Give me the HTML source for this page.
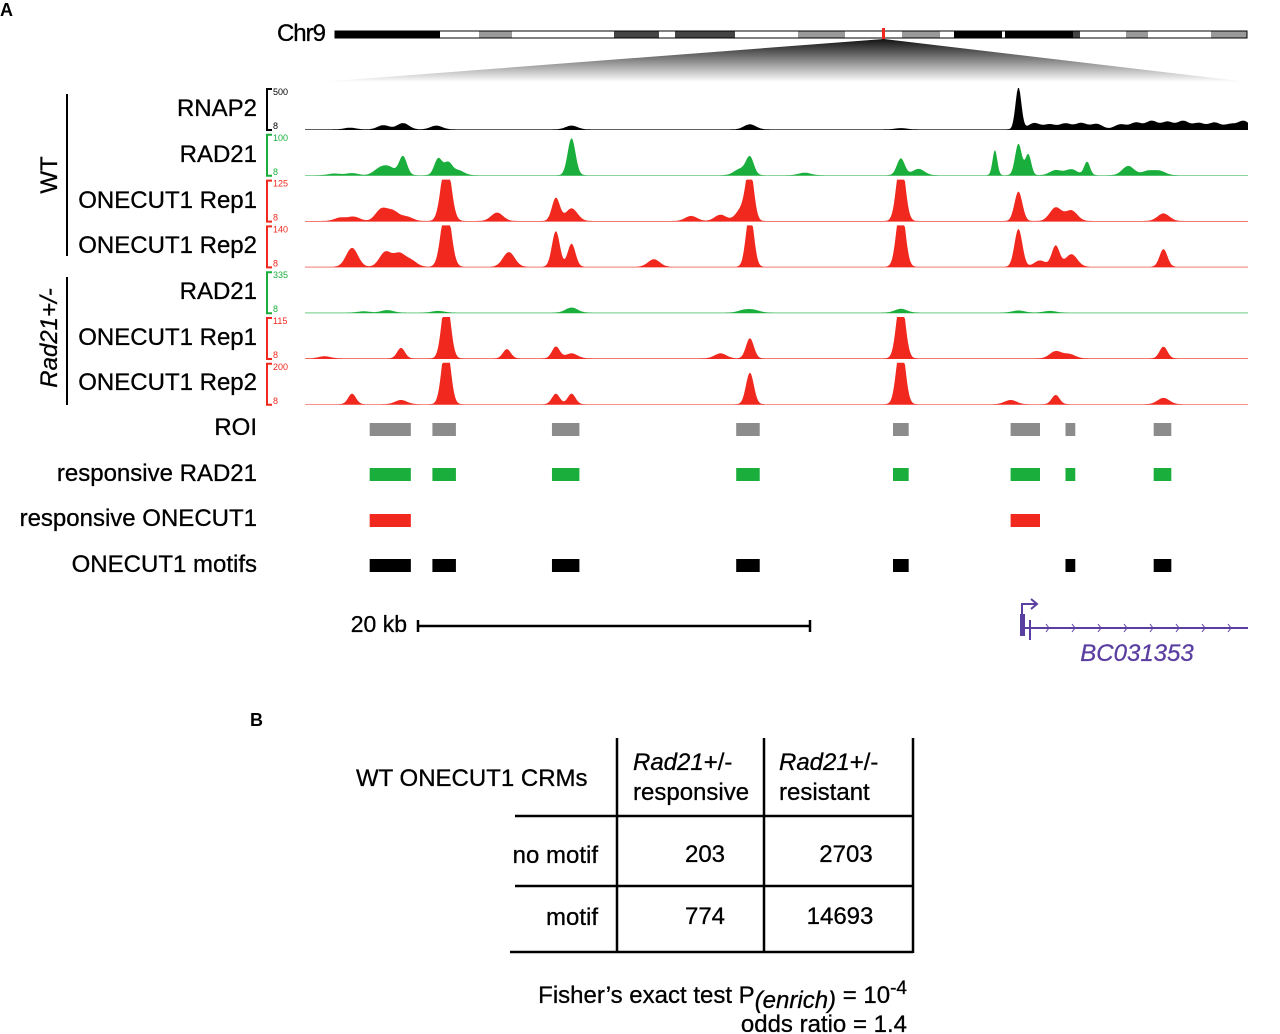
<!DOCTYPE html>
<html><head><meta charset="utf-8"><style>
html,body{margin:0;padding:0;background:#fff}
svg{display:block;font-family:"Liberation Sans",sans-serif}
</style></head><body>
<svg id="fig" width="1280" height="1034" viewBox="0 0 1280 1034">
<defs><linearGradient id="fun" x1="0" y1="0" x2="0" y2="1"><stop offset="0" stop-color="#111"/><stop offset="1" stop-color="#fff"/></linearGradient></defs>
<text x="0" y="16" font-size="18" font-weight="bold">A</text>
<text x="325" y="41" font-size="24" text-anchor="end" letter-spacing="-1" stroke="#000" stroke-width="0.3">Chr9</text>
<g id="ideo"></g>
<polygon points="884,39 320,82 1248,82" fill="url(#fun)"/>
<g id="tracks"></g>
<g id="labels" font-size="24" text-anchor="end" stroke="#000" stroke-width="0.3">
<text x="257" y="116">RNAP2</text><text x="257" y="162">RAD21</text>
<text x="257" y="208">ONECUT1 Rep1</text><text x="257" y="253">ONECUT1 Rep2</text>
<text x="257" y="299">RAD21</text><text x="257" y="345">ONECUT1 Rep1</text>
<text x="257" y="390">ONECUT1 Rep2</text>
<text x="257" y="435">ROI</text><text x="257" y="481">responsive RAD21</text>
<text x="257" y="526">responsive ONECUT1</text><text x="257" y="572">ONECUT1 motifs</text>
</g>
<line x1="67" y1="94" x2="67" y2="256" stroke="#000" stroke-width="2"/>
<line x1="67" y1="277" x2="67" y2="405" stroke="#000" stroke-width="2"/>
<text transform="translate(57,175) rotate(-90)" font-size="24" text-anchor="middle" stroke="#000" stroke-width="0.3">WT</text>
<text transform="translate(57,338) rotate(-90)" font-size="24" font-style="italic" text-anchor="middle" stroke="#000" stroke-width="0.3">Rad21+/-</text>
<g id="bars"></g>
<text x="407" y="632" font-size="23" text-anchor="end" stroke="#000" stroke-width="0.3">20 kb</text>
<g stroke="#000" stroke-width="2.5">
<line x1="418" y1="626" x2="810" y2="626"/><line x1="418" y1="620" x2="418" y2="632"/><line x1="810" y1="620" x2="810" y2="632"/></g>
<g id="gene" stroke="#5b3fa0" fill="none" stroke-width="2">
<line x1="1022" y1="628" x2="1248" y2="628"/>
<rect x="1020" y="614" width="5" height="22" fill="#5b3fa0" stroke="none"/>
<line x1="1030" y1="620" x2="1030" y2="640"/>
<polyline points="1022,614 1022,604 1036,604"/><polyline points="1031,599 1037,604 1031,609"/>
</g>
<text x="1137" y="661" font-size="24" font-style="italic" fill="#5b3fa0" stroke="#5b3fa0" stroke-width="0.3" text-anchor="middle">BC031353</text>
<text x="250" y="726" font-size="18" font-weight="bold">B</text>
<g stroke="#000" stroke-width="2.5">
<line x1="617" y1="738" x2="617" y2="953"/><line x1="764" y1="738" x2="764" y2="953"/><line x1="913" y1="738" x2="913" y2="953"/>
<line x1="515" y1="816" x2="913" y2="816"/><line x1="515" y1="886" x2="913" y2="886"/><line x1="510" y1="952" x2="913" y2="952"/>
</g>
<g font-size="24" stroke="#000" stroke-width="0.3">
<text x="356" y="786">WT ONECUT1 CRMs</text>
<text x="633" y="770" font-style="italic">Rad21<tspan font-style="normal">+/-</tspan></text>
<text x="633" y="800">responsive</text>
<text x="779" y="770" font-style="italic">Rad21<tspan font-style="normal">+/-</tspan></text>
<text x="779" y="800">resistant</text>
<text x="598" y="863" text-anchor="end">no motif</text><text x="598" y="925" text-anchor="end">motif</text>
<text x="705" y="862" text-anchor="middle">203</text><text x="846" y="862" text-anchor="middle">2703</text>
<text x="705" y="924" text-anchor="middle">774</text><text x="840" y="924" text-anchor="middle">14693</text>
<text x="907" y="1003" text-anchor="end">Fisher’s exact test P<tspan font-style="italic" dy="5">(enrich)</tspan><tspan dy="-5"> = 10</tspan><tspan dy="-9" font-size="19">-4</tspan></text>
<text x="907" y="1032" text-anchor="end">odds ratio = 1.4</text>
</g>
</svg>
<script>
// ---- data ----
const bandStarts=[335,440,479,512,614,659,675,735,798,845,902,940,954,1002,1005,1073,1080,1126,1148,1211];
const bandEnds=[440,479,512,614,659,675,735,798,845,902,940,954,1002,1005,1073,1080,1126,1148,1211,1247];
const bandColors=["#000","#fff","#999","#fff","#444","#fff","#444","#fff","#999","#fff","#999","#fff","#000","#fff","#000","#444","#fff","#999","#fff","#999"];
const trackNames=["RNAP2","RAD21 WT","ONECUT1 Rep1 WT","ONECUT1 Rep2 WT","RAD21 mutant","ONECUT1 Rep1 mutant","ONECUT1 Rep2 mutant"];
const trackMax=["500","100","125","140","335","115","200"];
const trackColors=["#000","#1aae3c","#f0281e","#f0281e","#1aae3c","#f0281e","#f0281e"];
const pRNAP2=[[2.3,.04],[4.0,.1],[5.0,.15],[6.7,.09],[13.6,.09],[22.7,.12],[30.4,.03],[36.4,1.0,.15],[37.2,.15],[38,.12],[38.8,.14],[39.6,.15],[40.4,.13],[41.6,.12],[42.4,.16],[43.2,.2],[44,.18],[44.8,.2],[45.6,.15],[46.4,.16],[47.2,.12],[47.9,.2]];
const pRAD21=[[1.5,.04],[2.4,.05],[3.8,.15],[4.3,.18],[5.0,.45,.2],[6.8,.4,.2],[7.3,.28,.2],[7.8,.12],[13.6,.88,.2],[22.2,.15],[22.7,.42,.2],[25.5,.06],[30.4,.4,.2],[31.3,.15],[35.2,.6,.12],[36.4,.75,.17],[36.9,.5,.15],[38.3,.12],[39.1,.14],[39.9,.32,.15],[42.0,.22],[43.0,.1],[43.6,.1]];
const pRep1=[[1.8,.08],[2.5,.1],[3.9,.28],[4.5,.22],[5.2,.1],[7.2,1.5,.25],[9.8,.2],[12.8,.55,.2],[13.6,.3],[19.7,.12],[21.2,.15],[22.3,.3],[22.7,1.2,.2],[30.4,1.5,.22],[36.4,.7,.2],[38.3,.32],[39.1,.25],[43.8,.18]];
const pRep2=[[2.4,.45],[4.1,.35],[4.8,.3],[5.4,.15],[7.2,1.5,.25],[10.4,.35],[12.8,.85,.2],[13.6,.55,.2],[17.8,.18],[22.7,1.3,.2],[30.4,1.5,.22],[36.4,.9,.2],[37.5,.15],[38.3,.5,.2],[39.1,.3],[43.8,.42,.2]];
const pRAD21m=[[3.0,.03],[4.2,.06],[6.8,.04],[13.6,.12],[22.4,.06],[22.9,.06],[30.4,.09],[36.4,.05],[38,.04]];
const pRep1m=[[1.0,.05],[4.9,.25,.2],[7.2,1.5,.22],[10.3,.22,.2],[12.8,.28,.2],[13.6,.12],[21.2,.12],[22.7,.48,.2],[30.4,1.5,.22],[38.3,.17],[39,.1],[43.8,.28,.2]];
const pRep2m=[[2.4,.25,.2],[4.9,.1],[7.2,1.5,.22],[12.8,.25,.2],[13.6,.25,.2],[22.7,.75,.2],[30.4,1.5,.22],[36,.1],[38.3,.22,.2],[43.8,.15]];
const trackPeaks=[pRNAP2,pRAD21,pRep1,pRep2,pRAD21m,pRep1m,pRep2m];
const roiStart=[3.3,6.5,12.6,22.0,30.0,36.0,38.8,43.3];
const roiEnd=[5.4,7.7,14.0,23.2,30.8,37.5,39.3,44.2];
const respRAD21=[1,1,1,1,1,1,1,1];
const respONECUT1=[1,0,0,0,0,1,0,0];
const motifs=[1,1,1,1,1,0,1,1];
// ---- axes ----
const X0=305,PX_PER_KB=19.6,X1=1248;
const xs=kb=>X0+kb*PX_PER_KB;
const NS="http://www.w3.org/2000/svg";
function mk(tag,attrs,parent){const e=document.createElementNS(NS,tag);for(const k in attrs)e.setAttribute(k,attrs[k]);parent.appendChild(e);return e;}
const ideo=document.getElementById('ideo');
bandStarts.forEach((s,i)=>{const r=mk('rect',{x:s,y:31,width:bandEnds[i]-s,height:7,fill:bandColors[i]},ideo);

});
mk('rect',{x:335,y:31,width:912,height:7,fill:'none',stroke:'#000','stroke-width':1},ideo);
const mkr=mk('rect',{x:882,y:28,width:3,height:12,fill:'#f0281e'},ideo);


const tracksG=document.getElementById('tracks');
const TOP0=88,STEP=45.8,H=42;
trackNames.forEach((nm,t)=>{
  const top=TOP0+t*STEP,base=top+H,c=trackColors[t];
  const g=mk('g',{},tracksG);
  
  
  mk('polyline',{points:`272,${top+1} 267,${top+1} 267,${base} 272,${base}`,fill:'none',stroke:c,'stroke-width':2},g);
  const mx=mk('text',{x:273,y:top+7,'font-size':9,fill:c},g);mx.textContent=trackMax[t];
  const mn=mk('text',{x:273,y:base-1,'font-size':9,fill:c},g);mn.textContent='8';
  const peaks=trackPeaks[t];
  let pts=[`${X0},${base}`];
  for(let px=X0;px<=X1;px+=1){
    const kb=(px-X0)/PX_PER_KB;let v=0.015;
    peaks.forEach(p=>{const w=p[2]||0.3;v+=p[1]*Math.exp(-((kb-p[0])**2)/(2*w*w));});
    v=Math.min(1,v);pts.push(`${px},${(base-v*H).toFixed(1)}`);
  }
  pts.push(`${X1},${base}`);
  const poly=mk('polygon',{points:pts.join(' '),fill:c},g);
  
  
});
const bars=document.getElementById('bars');
const rows=[[null,'#8c8c8c',423,'roi'],[respRAD21,'#1aae3c',468,'responsive-rad21'],[respONECUT1,'#f0281e',514,'responsive-onecut1'],[motifs,'#000',559,'onecut1-motif']];
rows.forEach(r=>{roiStart.forEach((s,i)=>{ if(r[0]&&!r[0][i])return;
  const b=mk('rect',{x:xs(s),y:r[2],width:xs(roiEnd[i])-xs(s),height:13,fill:r[1]},bars);
  
  });});
const gene=document.getElementById('gene');
for(let x=1046;x<1248;x+=26){mk('polyline',{points:`${x},${624} ${x+3},${628} ${x},${632}`,'stroke-width':1},gene);}
</script>
</body></html>
